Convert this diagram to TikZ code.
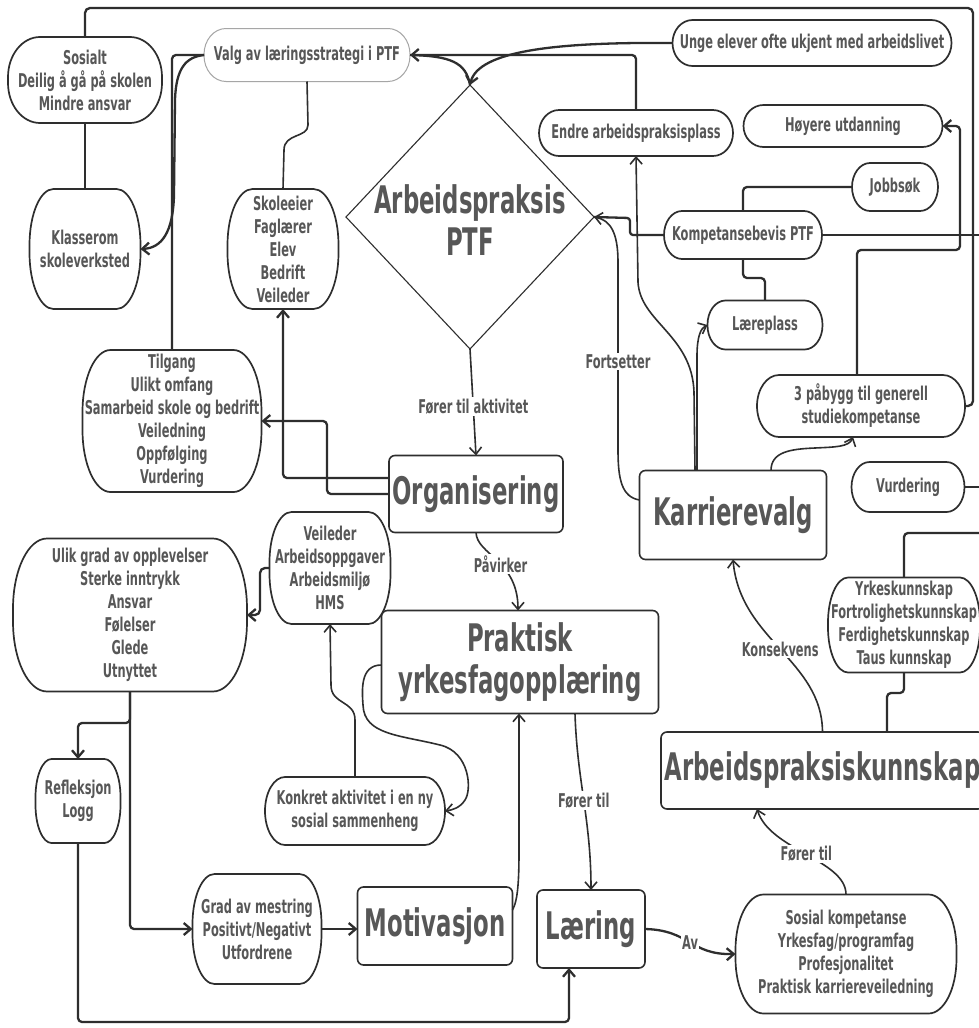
\documentclass[tikz,border=0pt]{standalone}
\usepackage{fontspec}
\setmainfont{DejaVu Sans}[FakeStretch=0.6]
\usetikzlibrary{arrows.meta,calc}
\definecolor{ink}{HTML}{2E2E2E}
\definecolor{txt}{HTML}{575757}
\newcommand\smallfont{\bfseries\fontsize{19}{23}\selectfont}
\newcommand\bigfont{\bfseries\fontsize{38}{42}\selectfont}
% outline with elliptical corners around a rectangular node: [style]{node}{rx}{ry}
\newcommand\eboxline[4][outline]{%
  \draw[#1] ([xshift=#3]#2.north west) -- ([xshift=-#3]#2.north east)
    arc[start angle=90,end angle=0,x radius=#3,y radius=#4]
    -- ([yshift=#4]#2.south east)
    arc[start angle=0,end angle=-90,x radius=#3,y radius=#4]
    -- ([xshift=#3]#2.south west)
    arc[start angle=270,end angle=180,x radius=#3,y radius=#4]
    -- ([yshift=-#4]#2.north west)
    arc[start angle=180,end angle=90,x radius=#3,y radius=#4] -- cycle;}
\tikzset{
  box/.style={font=\smallfont, text=txt, align=center, inner sep=0pt, outer sep=0pt},
  big/.style={font=\bigfont, text=txt, align=center, inner sep=0pt, outer sep=0pt,
    draw=ink, line width=1.6pt, rounded corners=6pt},
  lbl/.style={font=\smallfont, text=txt, fill=white, inner sep=1.5pt},
  conn/.style={draw=ink, line width=2.3pt, line join=round},
  connthin/.style={draw=ink, line width=1.6pt, line join=round},
  tip/.style={-{Straight Barb[length=7pt,width=12pt]}},
  outline/.style={draw=ink, line width=1.7pt},
  faint/.style={draw=gray!70, line width=1pt},
}
\begin{document}
\begin{tikzpicture}[x=1pt,y=-1pt]
\fill[white] (0,0) rectangle (979,1028);
\useasboundingbox (0,0) rectangle (979,1028);

% ---------- rounded text boxes ----------
\node[box, minimum width=154pt, minimum height=86pt] (sos) at (85,80) {Sosialt\\Deilig å gå på skolen\\Mindre ansvar};
\eboxline{sos}{32pt}{40pt}
\node[box, minimum width=111pt, minimum height=120pt] (kls) at (85,249) {Klasserom\\skoleverksted};
\eboxline{kls}{24pt}{56pt}
\node[box, minimum width=206pt, minimum height=53pt] (valg) at (307,55) {Valg av læringsstrategi i PTF};
\eboxline[faint]{valg}{22pt}{26pt}
\node[box, minimum width=111pt, minimum height=120pt] (skl) at (283,249) {Skoleeier\\Faglærer\\Elev\\Bedrift\\Veileder};
\eboxline{skl}{25pt}{56pt}
\node[box, minimum width=279pt, minimum height=46pt] (unge) at (812,43) {Unge elever ofte ukjent med arbeidslivet};
\eboxline{unge}{20pt}{23pt}
\node[box, minimum width=194pt, minimum height=46pt] (endre) at (636,133) {Endre arbeidspraksisplass};
\eboxline{endre}{20pt}{23pt}
\node[box, minimum width=199pt, minimum height=42pt] (hoy) at (843,126) {Høyere utdanning};
\eboxline{hoy}{20pt}{21pt}
\node[box, minimum width=86pt, minimum height=48pt] (jobb) at (895,187) {Jobbsøk};
\eboxline{jobb}{18pt}{24pt}
\node[box, minimum width=158pt, minimum height=48pt] (komp) at (743,235) {Kompetansebevis PTF};
\eboxline{komp}{18pt}{24pt}
\node[box, minimum width=115pt, minimum height=49pt] (laer) at (765,325) {Læreplass};
\eboxline{laer}{18pt}{24pt}
\node[box, minimum width=208pt, minimum height=62pt] (pab) at (861,406) {3 påbygg til generell\\studiekompetanse};
\eboxline{pab}{22pt}{31pt}
\node[box, minimum width=113pt, minimum height=50pt] (vur) at (908,487) {Vurdering};
\eboxline{vur}{18pt}{25pt}
\node[box, minimum width=152pt, minimum height=95pt] (yrk) at (904,625) {Yrkeskunnskap\\Fortrolighetskunnskap\\Ferdighetskunnskap\\Taus kunnskap};
\eboxline{yrk}{20pt}{45pt}
\node[box, minimum width=179pt, minimum height=142pt] (til) at (172,421) {Tilgang\\Ulikt omfang\\Samarbeid skole og bedrift\\Veiledning\\Oppfølging\\Vurdering};
\eboxline{til}{28pt}{62pt}
\node[box, minimum width=121pt, minimum height=112pt] (vei) at (330,568) {Veileder\\Arbeidsoppgaver\\Arbeidsmiljø\\HMS};
\eboxline{vei}{22pt}{50pt}
\node[box, minimum width=234pt, minimum height=153pt] (ulik) at (130,615) {Ulik grad av opplevelser\\Sterke inntrykk\\Ansvar\\Følelser\\Glede\\Utnyttet};
\eboxline{ulik}{34pt}{70pt}
\node[box, minimum width=180pt, minimum height=68pt] (konk) at (355,811) {Konkret aktivitet i en ny\\sosial sammenheng};
\eboxline{konk}{20pt}{34pt}
\node[box, minimum width=85pt, minimum height=84pt] (refl) at (78,801) {Refleksjon\\Logg};
\eboxline{refl}{16pt}{38pt}
\node[box, minimum width=129pt, minimum height=110pt] (grad) at (257,929) {Grad av mestring\\Positivt/Negativt\\Utfordrene};
\eboxline{grad}{22pt}{50pt}
\node[box, minimum width=221pt, minimum height=119pt] (sosk) at (846,954) {Sosial kompetanse\\Yrkesfag/programfag\\Profesjonalitet\\Praktisk karriereveiledning};
\eboxline{sosk}{28pt}{55pt}

% ---------- main boxes ----------
\node[big, minimum width=174pt, minimum height=77pt] (org) at (476,494) {Organisering};
\node[big, minimum width=187pt, minimum height=89pt] (karr) at (733,515) {Karrierevalg};
\node[big, minimum width=277pt, minimum height=103pt] (prak) at (520,662) {Praktisk\\yrkesfagopplæring};
\node[big, minimum width=323pt, minimum height=77pt] (apk) at (822.5,770.5) {Arbeidspraksiskunnskap};
\node[big, minimum width=155pt, minimum height=78pt] (mot) at (435,926) {Motivasjon};
\node[big, minimum width=108pt, minimum height=78pt] (lae) at (591,929) {Læring};

% ---------- decision diamond ----------
\coordinate (ptfN) at (470,85);
\coordinate (ptfE) at (594,217);
\coordinate (ptfS) at (470,349);
\coordinate (ptfW) at (346,217);
\draw[ink, line width=1.1pt] (ptfN) -- (ptfE) -- (ptfS) -- (ptfW) -- cycle;
\node[box, font=\bigfont] (ptf) at (470,220) {Arbeidspraksis\\PTF};

% free ends leaving the sheet on the right
\coordinate (kompR) at (990,235);
\coordinate (vurR) at (990,487);
\coordinate (yrkR) at (990,533);

% ---------- connectors ----------
\draw[conn, rounded corners=5pt] (pab.east) -| (973,8) -| (sos.north);
\draw[connthin] (sos.south) -- (kls.north);
\draw[conn, tip] (valg.west) .. controls (186,57) and (176,68) .. (175,100) -- (174,195)
  .. controls (173,232) and (162,248) .. (kls.east);
\draw[conn, rounded corners=4pt] (valg.west) -| (til.north);
\draw[connthin] (valg.south) -- (308,125) .. controls (308,138) and (284,133) .. (284,150) -- (skl.north);
\draw[conn, tip, rounded corners=4pt] ([yshift=16pt]org.west) -| (skl.south);
\draw[conn, tip, rounded corners=4pt] (org.west) -| (327,421) -- (til.east);

\draw[conn, tip] (unge.west) .. controls (560,42) and (478,50) .. (ptfN);
\draw[conn] (ptfN) .. controls (466,62) and (450,56) .. (valg.east);
\draw[conn, tip, rounded corners=4pt] (endre.north) |- (valg.east);
\draw[connthin, tip] (ptfS) -- (org.north) node[lbl, pos=0.54] {Fører til aktivitet};
\draw[connthin, tip] (org.south) .. controls (477,555) and (518,560) .. ([xshift=-2pt]prak.north)
  node[lbl, pos=0.55] {Påvirker};

\draw[connthin, tip] ([yshift=15pt]karr.west) .. controls (622,497) and (618,480) .. (618,450)
  -- (618,262) node[lbl, pos=0.47] {Fortsetter} .. controls (618,232) and (610,220) .. (ptfE);
\draw[conn, rounded corners=3pt] (komp.west) -| (630,218) -- (ptfE);
\draw[conn] (komp.east) -- (kompR);
\draw[conn, rounded corners=4pt] (jobb.west) -| (komp.north);
\draw[conn, rounded corners=4pt] (komp.south) -- (743,278) -| (laer.north);
\draw[connthin, tip] ([xshift=-38pt]karr.north) -- (694,392) .. controls (692,335) and (640,322) .. (638,282) -- (endre.south);
\draw[connthin, tip] ([xshift=-36pt]karr.north) -- (697,356) .. controls (697,336) and (701,328) .. (laer.west);
\draw[connthin, tip] ([xshift=38pt]karr.north) .. controls (771,452) and (790,449) .. (815,448)
  .. controls (835,447) and (849,447) .. ([xshift=-8pt]pab.south);
\draw[conn, tip, rounded corners=4pt] ([xshift=-4pt]pab.north) |- (960,250) |- (hoy.east);
\draw[conn] (vur.east) -- (vurR);
\draw[conn, rounded corners=4pt] (yrk.north) |- (yrkR);
\draw[conn, rounded corners=4pt] (yrk.south) -- (904,693) -| ([xshift=64.5pt]apk.north);

\draw[connthin, tip] (apk.north) .. controls (822,660) and (740,640) .. (karr.south)
  node[lbl, pos=0.5] {Konsekvens};
\draw[connthin, tip] (sosk.north) .. controls (846,860) and (770,850) .. ([xshift=-65.5pt]apk.south)
  node[lbl, pos=0.5] {Fører til};
\draw[connthin, tip] ([xshift=55pt]prak.south) .. controls (577,780) and (591,820) .. (lae.north)
  node[lbl, pos=0.5] {Fører til};
\draw[conn, tip] (lae.east) .. controls (690,930) and (690,955) .. (sosk.west)
  node[lbl, pos=0.5] {Av};
\draw[connthin, tip] ([yshift=16pt]mot.east) .. controls (518,900) and (519,880) .. (519,850) -- ([xshift=-1pt]prak.south);
\draw[conn, tip] (grad.east) -- (grad.east -| mot.west);

\draw[conn, tip, rounded corners=4pt] (ulik.south) -- (130,723) -| (refl.north);
\draw[conn, tip, rounded corners=4pt] (ulik.south) |- (grad.west);
\draw[conn, tip, rounded corners=4pt] (refl.south) |- (569,1022) -- ([xshift=-22pt]lae.south);
\draw[conn, tip, rounded corners=5pt] (vei.west) -- (260,568) -- (260,615) -- (ulik.east);
\draw[connthin, tip] (konk.north) -- (355,720) .. controls (355,700) and (331,705) .. (331,685) -- (vei.south);
\draw[connthin, tip] ([yshift=-3pt]prak.west) .. controls (360,665) and (362,690) .. (363,705)
  .. controls (364,735) and (400,735) .. (440,745) .. controls (470,752) and (472,790) .. (465,800)
  .. controls (460,808) and (452,810) .. (konk.east);
\end{tikzpicture}
\end{document}
